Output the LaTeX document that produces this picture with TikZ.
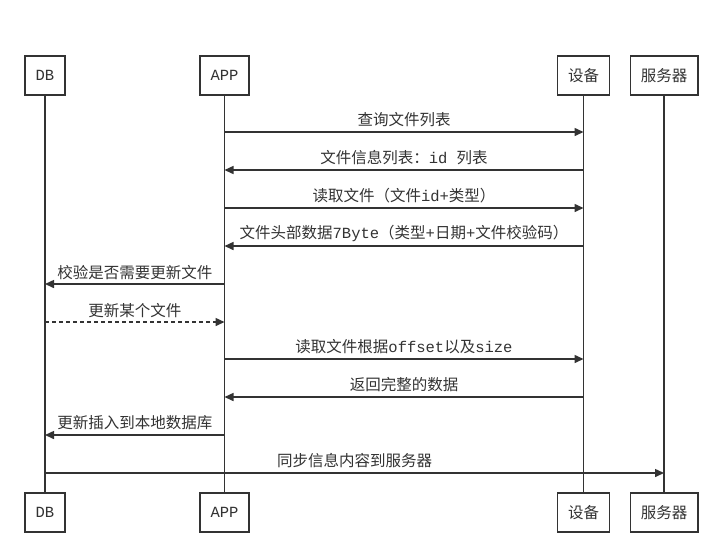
\documentclass[tikz,border=0pt]{standalone}
\usepackage{fontspec}
\usepackage{tikz}
\usetikzlibrary{arrows.meta}
\newfontfamily\cjk{Noto Sans CJK SC}
\setmonofont{Liberation Mono}
\definecolor{lineGray}{HTML}{333333}

\begin{document}
\begin{tikzpicture}[x=1pt,y=-1pt,
    % 参与者、生命线、消息的样式
    RoleNode/.style={rectangle,draw=lineGray,line width=1.5pt,fill=white,minimum height=39pt,inner xsep=10.5pt,font=\fontsize{15.5}{18}\selectfont,text=lineGray},
    LifeLine/.style={draw=lineGray,line width=1.5pt},
    MsgLine/.style={draw=lineGray,line width=1.5pt,-{Triangle[length=9pt,width=8pt]}},
    MsgText/.style={above=3pt,inner sep=1pt,font=\cjk\fontsize{15.5}{18}\selectfont,text=lineGray}]

    % 背景和边界
    \useasboundingbox[fill=white] (0,0) rectangle (717,558);

    % 添加参与者结点(上下各一个)和生命线
    \foreach \n/\x/\t in {db/45/{\ttfamily DB},app/224.5/{\ttfamily APP},dev/583.5/{\cjk 设备},srv/664/{\cjk 服务器}}{
        \node[RoleNode] (\n_top) at (\x,75.5){\t};
        \node[RoleNode] (\n_bot) at (\x,512.5){\t};
        \draw[LifeLine](\n_top)--(\n_bot);
    }

    % 每条生命线上每一步的坐标
    \foreach \n/\x in {db/45,app/224.5,dev/583.5,srv/664}
        \foreach \i/\y in {1/132,2/170,3/208,4/246,5/284,6/322,7/359,8/397,9/435,10/473}
            \coordinate (\n_\i) at (\x,\y);

    % 消息
    \draw[MsgLine](app_1)--node[MsgText]{查询文件列表}(dev_1);
    \draw[MsgLine](dev_2)--node[MsgText]{文件信息列表：\texttt{id }列表}(app_2);
    \draw[MsgLine](app_3)--node[MsgText]{读取文件（文件\texttt{id+}类型）}(dev_3);
    \draw[MsgLine](dev_4)--node[MsgText]{文件头部数据\texttt{7Byte}（类型\texttt{+}日期\texttt{+}文件校验码）}(app_4);
    \draw[MsgLine](app_5)--node[MsgText]{校验是否需要更新文件}(db_5);
    \draw[MsgLine,dash pattern=on 4pt off 3pt](db_6)--node[MsgText]{更新某个文件}(app_6);
    \draw[MsgLine](app_7)--node[MsgText]{读取文件根据\texttt{offset}以及\texttt{size}}(dev_7);
    \draw[MsgLine](dev_8)--node[MsgText]{返回完整的数据}(app_8);
    \draw[MsgLine](app_9)--node[MsgText]{更新插入到本地数据库}(db_9);
    \draw[MsgLine](db_10)--node[MsgText]{同步信息内容到服务器}(srv_10);
\end{tikzpicture}
\end{document}
